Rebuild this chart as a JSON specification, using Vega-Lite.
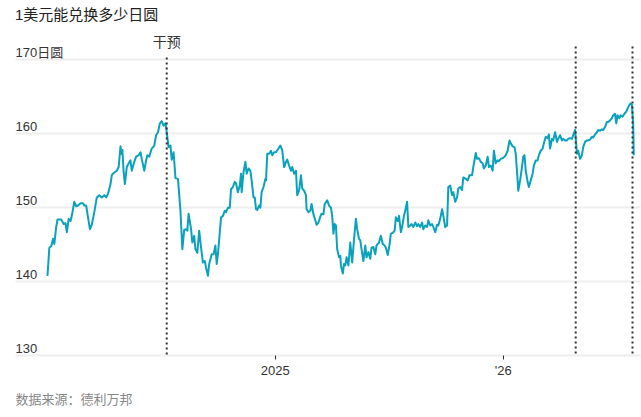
{
  "$schema": "https://vega.github.io/schema/vega-lite/v6.json",
  "width": 625,
  "height": 296,
  "autosize": {"type": "none"},
  "padding": {"left": 15, "top": 59, "right": 1, "bottom": 62},
  "background": "#ffffff",
  "config": {
    "font": "Liberation Sans, Noto Sans CJK SC, sans-serif",
    "view": {"stroke": null}
  },
  "title": {
    "text": "1美元能兑换多少日圆",
    "anchor": "start",
    "frame": "group",
    "fontSize": 15,
    "fontWeight": "normal",
    "color": "#222222",
    "offset": 13
  },
  "datasets": {
    "rates": [
      {"date": "2024-01-03", "rate": 140.7},
      {"date": "2024-01-06", "rate": 144.5},
      {"date": "2024-01-09", "rate": 144.7},
      {"date": "2024-01-12", "rate": 145.7},
      {"date": "2024-01-14", "rate": 145.0},
      {"date": "2024-01-17", "rate": 147.3},
      {"date": "2024-01-19", "rate": 148.3},
      {"date": "2024-01-25", "rate": 148.3},
      {"date": "2024-01-29", "rate": 147.7},
      {"date": "2024-02-01", "rate": 147.8},
      {"date": "2024-02-03", "rate": 146.6},
      {"date": "2024-02-06", "rate": 148.4},
      {"date": "2024-02-09", "rate": 148.1},
      {"date": "2024-02-12", "rate": 149.3},
      {"date": "2024-02-15", "rate": 150.7},
      {"date": "2024-02-18", "rate": 150.1},
      {"date": "2024-02-21", "rate": 150.2},
      {"date": "2024-02-25", "rate": 150.5},
      {"date": "2024-02-29", "rate": 150.5},
      {"date": "2024-03-02", "rate": 150.2},
      {"date": "2024-03-05", "rate": 150.2},
      {"date": "2024-03-07", "rate": 149.1},
      {"date": "2024-03-11", "rate": 147.0},
      {"date": "2024-03-14", "rate": 147.6},
      {"date": "2024-03-18", "rate": 149.3},
      {"date": "2024-03-22", "rate": 151.3},
      {"date": "2024-03-26", "rate": 151.6},
      {"date": "2024-03-30", "rate": 151.3},
      {"date": "2024-04-03", "rate": 151.6},
      {"date": "2024-04-06", "rate": 151.3},
      {"date": "2024-04-09", "rate": 151.8},
      {"date": "2024-04-13", "rate": 153.1},
      {"date": "2024-04-15", "rate": 154.3},
      {"date": "2024-04-18", "rate": 154.6},
      {"date": "2024-04-23", "rate": 154.9},
      {"date": "2024-04-26", "rate": 155.4},
      {"date": "2024-04-29", "rate": 158.2},
      {"date": "2024-04-30", "rate": 157.2},
      {"date": "2024-05-02", "rate": 157.7},
      {"date": "2024-05-04", "rate": 154.7},
      {"date": "2024-05-06", "rate": 153.1},
      {"date": "2024-05-09", "rate": 155.4},
      {"date": "2024-05-12", "rate": 155.9},
      {"date": "2024-05-15", "rate": 156.3},
      {"date": "2024-05-17", "rate": 154.9},
      {"date": "2024-05-21", "rate": 156.1},
      {"date": "2024-05-24", "rate": 156.8},
      {"date": "2024-05-28", "rate": 157.0},
      {"date": "2024-05-31", "rate": 157.4},
      {"date": "2024-06-02", "rate": 156.5},
      {"date": "2024-06-06", "rate": 154.9},
      {"date": "2024-06-09", "rate": 156.3},
      {"date": "2024-06-11", "rate": 157.0},
      {"date": "2024-06-14", "rate": 156.8},
      {"date": "2024-06-18", "rate": 157.9},
      {"date": "2024-06-22", "rate": 158.3},
      {"date": "2024-06-25", "rate": 159.7},
      {"date": "2024-06-28", "rate": 160.1},
      {"date": "2024-07-01", "rate": 161.3},
      {"date": "2024-07-04", "rate": 161.6},
      {"date": "2024-07-07", "rate": 161.0},
      {"date": "2024-07-10", "rate": 161.3},
      {"date": "2024-07-12", "rate": 160.1},
      {"date": "2024-07-15", "rate": 158.1},
      {"date": "2024-07-18", "rate": 158.3},
      {"date": "2024-07-20", "rate": 156.4},
      {"date": "2024-07-23", "rate": 157.4},
      {"date": "2024-07-26", "rate": 153.9},
      {"date": "2024-07-30", "rate": 153.8},
      {"date": "2024-08-03", "rate": 149.5},
      {"date": "2024-08-06", "rate": 144.3},
      {"date": "2024-08-09", "rate": 146.9},
      {"date": "2024-08-12", "rate": 147.0},
      {"date": "2024-08-14", "rate": 146.8},
      {"date": "2024-08-16", "rate": 149.1},
      {"date": "2024-08-20", "rate": 147.0},
      {"date": "2024-08-22", "rate": 145.2},
      {"date": "2024-08-25", "rate": 146.1},
      {"date": "2024-08-27", "rate": 144.3},
      {"date": "2024-08-30", "rate": 143.8},
      {"date": "2024-09-02", "rate": 146.8},
      {"date": "2024-09-05", "rate": 144.5},
      {"date": "2024-09-08", "rate": 142.5},
      {"date": "2024-09-11", "rate": 142.7},
      {"date": "2024-09-13", "rate": 141.8},
      {"date": "2024-09-16", "rate": 140.7},
      {"date": "2024-09-18", "rate": 142.3},
      {"date": "2024-09-22", "rate": 143.6},
      {"date": "2024-09-25", "rate": 143.6},
      {"date": "2024-09-28", "rate": 144.8},
      {"date": "2024-09-30", "rate": 142.3},
      {"date": "2024-10-02", "rate": 143.6},
      {"date": "2024-10-05", "rate": 146.6},
      {"date": "2024-10-07", "rate": 148.6},
      {"date": "2024-10-10", "rate": 148.8},
      {"date": "2024-10-13", "rate": 149.5},
      {"date": "2024-10-15", "rate": 149.3},
      {"date": "2024-10-18", "rate": 149.9},
      {"date": "2024-10-21", "rate": 149.9},
      {"date": "2024-10-23", "rate": 152.4},
      {"date": "2024-10-26", "rate": 152.7},
      {"date": "2024-10-29", "rate": 153.4},
      {"date": "2024-10-31", "rate": 153.2},
      {"date": "2024-11-03", "rate": 152.0},
      {"date": "2024-11-06", "rate": 152.9},
      {"date": "2024-11-08", "rate": 154.5},
      {"date": "2024-11-09", "rate": 152.0},
      {"date": "2024-11-12", "rate": 154.7},
      {"date": "2024-11-15", "rate": 156.1},
      {"date": "2024-11-17", "rate": 154.5},
      {"date": "2024-11-20", "rate": 155.2},
      {"date": "2024-11-23", "rate": 154.9},
      {"date": "2024-11-25", "rate": 153.6},
      {"date": "2024-11-28", "rate": 151.3},
      {"date": "2024-11-30", "rate": 151.3},
      {"date": "2024-12-02", "rate": 149.7},
      {"date": "2024-12-04", "rate": 149.6},
      {"date": "2024-12-07", "rate": 150.2},
      {"date": "2024-12-09", "rate": 149.9},
      {"date": "2024-12-11", "rate": 152.0},
      {"date": "2024-12-14", "rate": 152.7},
      {"date": "2024-12-17", "rate": 153.8},
      {"date": "2024-12-18", "rate": 153.6},
      {"date": "2024-12-20", "rate": 157.2},
      {"date": "2024-12-23", "rate": 157.2},
      {"date": "2024-12-26", "rate": 157.6},
      {"date": "2024-12-28", "rate": 157.0},
      {"date": "2024-12-31", "rate": 157.4},
      {"date": "2025-01-03", "rate": 157.4},
      {"date": "2025-01-07", "rate": 157.9},
      {"date": "2025-01-10", "rate": 158.3},
      {"date": "2025-01-13", "rate": 157.7},
      {"date": "2025-01-16", "rate": 155.4},
      {"date": "2025-01-19", "rate": 156.1},
      {"date": "2025-01-21", "rate": 156.4},
      {"date": "2025-01-24", "rate": 155.6},
      {"date": "2025-01-27", "rate": 154.9},
      {"date": "2025-01-29", "rate": 155.4},
      {"date": "2025-02-01", "rate": 154.5},
      {"date": "2025-02-04", "rate": 154.9},
      {"date": "2025-02-06", "rate": 151.6},
      {"date": "2025-02-09", "rate": 152.2},
      {"date": "2025-02-12", "rate": 154.3},
      {"date": "2025-02-14", "rate": 152.5},
      {"date": "2025-02-17", "rate": 152.2},
      {"date": "2025-02-20", "rate": 151.6},
      {"date": "2025-02-21", "rate": 149.7},
      {"date": "2025-02-24", "rate": 149.3},
      {"date": "2025-02-27", "rate": 149.5},
      {"date": "2025-03-01", "rate": 150.4},
      {"date": "2025-03-04", "rate": 149.0},
      {"date": "2025-03-07", "rate": 148.2},
      {"date": "2025-03-09", "rate": 147.6},
      {"date": "2025-03-12", "rate": 147.9},
      {"date": "2025-03-15", "rate": 148.7},
      {"date": "2025-03-17", "rate": 149.1},
      {"date": "2025-03-20", "rate": 149.0},
      {"date": "2025-03-22", "rate": 150.4},
      {"date": "2025-03-26", "rate": 150.9},
      {"date": "2025-03-29", "rate": 150.2},
      {"date": "2025-04-01", "rate": 149.9},
      {"date": "2025-04-03", "rate": 148.8},
      {"date": "2025-04-05", "rate": 146.4},
      {"date": "2025-04-07", "rate": 147.7},
      {"date": "2025-04-09", "rate": 147.5},
      {"date": "2025-04-11", "rate": 144.3},
      {"date": "2025-04-14", "rate": 143.2},
      {"date": "2025-04-16", "rate": 143.4},
      {"date": "2025-04-17", "rate": 142.1},
      {"date": "2025-04-20", "rate": 141.0},
      {"date": "2025-04-22", "rate": 142.3},
      {"date": "2025-04-24", "rate": 142.1},
      {"date": "2025-04-26", "rate": 143.2},
      {"date": "2025-04-29", "rate": 142.1},
      {"date": "2025-05-02", "rate": 145.2},
      {"date": "2025-05-05", "rate": 142.5},
      {"date": "2025-05-08", "rate": 145.7},
      {"date": "2025-05-11", "rate": 148.4},
      {"date": "2025-05-13", "rate": 147.0},
      {"date": "2025-05-16", "rate": 145.7},
      {"date": "2025-05-18", "rate": 145.5},
      {"date": "2025-05-20", "rate": 144.3},
      {"date": "2025-05-23", "rate": 142.7},
      {"date": "2025-05-26", "rate": 144.8},
      {"date": "2025-05-28", "rate": 143.2},
      {"date": "2025-05-31", "rate": 143.9},
      {"date": "2025-06-03", "rate": 143.0},
      {"date": "2025-06-05", "rate": 144.5},
      {"date": "2025-06-08", "rate": 144.6},
      {"date": "2025-06-11", "rate": 143.6},
      {"date": "2025-06-13", "rate": 144.8},
      {"date": "2025-06-17", "rate": 145.2},
      {"date": "2025-06-20", "rate": 146.1},
      {"date": "2025-06-23", "rate": 145.0},
      {"date": "2025-06-26", "rate": 144.8},
      {"date": "2025-06-28", "rate": 144.5},
      {"date": "2025-07-01", "rate": 143.5},
      {"date": "2025-07-04", "rate": 145.0},
      {"date": "2025-07-06", "rate": 146.4},
      {"date": "2025-07-09", "rate": 146.5},
      {"date": "2025-07-12", "rate": 146.8},
      {"date": "2025-07-14", "rate": 148.6},
      {"date": "2025-07-17", "rate": 148.1},
      {"date": "2025-07-19", "rate": 148.8},
      {"date": "2025-07-22", "rate": 146.6},
      {"date": "2025-07-24", "rate": 147.3},
      {"date": "2025-07-27", "rate": 148.8},
      {"date": "2025-07-29", "rate": 149.5},
      {"date": "2025-08-01", "rate": 150.7},
      {"date": "2025-08-03", "rate": 147.3},
      {"date": "2025-08-06", "rate": 147.5},
      {"date": "2025-08-08", "rate": 147.7},
      {"date": "2025-08-11", "rate": 147.3},
      {"date": "2025-08-14", "rate": 147.9},
      {"date": "2025-08-17", "rate": 147.4},
      {"date": "2025-08-19", "rate": 147.7},
      {"date": "2025-08-22", "rate": 147.3},
      {"date": "2025-08-25", "rate": 147.9},
      {"date": "2025-08-27", "rate": 147.0},
      {"date": "2025-08-30", "rate": 147.5},
      {"date": "2025-09-02", "rate": 147.3},
      {"date": "2025-09-04", "rate": 148.2},
      {"date": "2025-09-07", "rate": 147.5},
      {"date": "2025-09-10", "rate": 147.7},
      {"date": "2025-09-12", "rate": 147.3},
      {"date": "2025-09-15", "rate": 146.6},
      {"date": "2025-09-18", "rate": 147.6},
      {"date": "2025-09-20", "rate": 147.5},
      {"date": "2025-09-23", "rate": 148.4},
      {"date": "2025-09-26", "rate": 149.7},
      {"date": "2025-09-28", "rate": 148.8},
      {"date": "2025-10-01", "rate": 147.3},
      {"date": "2025-10-04", "rate": 147.5},
      {"date": "2025-10-06", "rate": 152.7},
      {"date": "2025-10-09", "rate": 152.9},
      {"date": "2025-10-12", "rate": 151.6},
      {"date": "2025-10-14", "rate": 152.0},
      {"date": "2025-10-17", "rate": 150.7},
      {"date": "2025-10-20", "rate": 151.3},
      {"date": "2025-10-22", "rate": 152.5},
      {"date": "2025-10-25", "rate": 152.7},
      {"date": "2025-10-28", "rate": 152.3},
      {"date": "2025-10-30", "rate": 154.0},
      {"date": "2025-11-03", "rate": 153.8},
      {"date": "2025-11-06", "rate": 153.6},
      {"date": "2025-11-09", "rate": 154.3},
      {"date": "2025-11-13", "rate": 154.3},
      {"date": "2025-11-15", "rate": 155.4},
      {"date": "2025-11-19", "rate": 157.3},
      {"date": "2025-11-21", "rate": 156.5},
      {"date": "2025-11-24", "rate": 156.6},
      {"date": "2025-11-27", "rate": 156.1},
      {"date": "2025-11-30", "rate": 155.9},
      {"date": "2025-12-02", "rate": 155.2},
      {"date": "2025-12-05", "rate": 155.6},
      {"date": "2025-12-08", "rate": 156.8},
      {"date": "2025-12-10", "rate": 155.4},
      {"date": "2025-12-13", "rate": 155.6},
      {"date": "2025-12-16", "rate": 154.9},
      {"date": "2025-12-18", "rate": 157.6},
      {"date": "2025-12-21", "rate": 155.9},
      {"date": "2025-12-24", "rate": 156.3},
      {"date": "2025-12-26", "rate": 156.2},
      {"date": "2025-12-29", "rate": 156.5},
      {"date": "2026-01-01", "rate": 156.6},
      {"date": "2026-01-04", "rate": 156.8},
      {"date": "2026-01-06", "rate": 157.0},
      {"date": "2026-01-09", "rate": 157.6},
      {"date": "2026-01-12", "rate": 159.0},
      {"date": "2026-01-14", "rate": 158.6},
      {"date": "2026-01-17", "rate": 158.2},
      {"date": "2026-01-20", "rate": 158.1},
      {"date": "2026-01-22", "rate": 157.2},
      {"date": "2026-01-25", "rate": 153.6},
      {"date": "2026-01-26", "rate": 152.2},
      {"date": "2026-01-29", "rate": 153.6},
      {"date": "2026-02-01", "rate": 155.4},
      {"date": "2026-02-03", "rate": 156.8},
      {"date": "2026-02-05", "rate": 157.0},
      {"date": "2026-02-07", "rate": 154.9},
      {"date": "2026-02-10", "rate": 153.4},
      {"date": "2026-02-12", "rate": 152.7},
      {"date": "2026-02-15", "rate": 153.6},
      {"date": "2026-02-18", "rate": 154.5},
      {"date": "2026-02-20", "rate": 155.6},
      {"date": "2026-02-23", "rate": 156.3},
      {"date": "2026-02-26", "rate": 156.3},
      {"date": "2026-02-28", "rate": 157.0},
      {"date": "2026-03-03", "rate": 157.6},
      {"date": "2026-03-06", "rate": 157.9},
      {"date": "2026-03-08", "rate": 158.6},
      {"date": "2026-03-11", "rate": 159.5},
      {"date": "2026-03-14", "rate": 159.3},
      {"date": "2026-03-16", "rate": 159.8},
      {"date": "2026-03-18", "rate": 157.9},
      {"date": "2026-03-21", "rate": 159.2},
      {"date": "2026-03-23", "rate": 159.0},
      {"date": "2026-03-26", "rate": 160.1},
      {"date": "2026-03-29", "rate": 158.8},
      {"date": "2026-03-31", "rate": 159.2},
      {"date": "2026-04-03", "rate": 159.7},
      {"date": "2026-04-06", "rate": 159.0},
      {"date": "2026-04-08", "rate": 159.2},
      {"date": "2026-04-11", "rate": 159.0},
      {"date": "2026-04-14", "rate": 159.0},
      {"date": "2026-04-16", "rate": 159.2},
      {"date": "2026-04-19", "rate": 159.3},
      {"date": "2026-04-22", "rate": 159.2},
      {"date": "2026-04-24", "rate": 159.7},
      {"date": "2026-04-27", "rate": 160.4},
      {"date": "2026-04-30", "rate": 157.2},
      {"date": "2026-05-02", "rate": 157.6},
      {"date": "2026-05-05", "rate": 156.5},
      {"date": "2026-05-08", "rate": 157.0},
      {"date": "2026-05-10", "rate": 158.1},
      {"date": "2026-05-13", "rate": 158.8},
      {"date": "2026-05-16", "rate": 159.0},
      {"date": "2026-05-18", "rate": 159.0},
      {"date": "2026-05-21", "rate": 159.1},
      {"date": "2026-05-24", "rate": 159.5},
      {"date": "2026-05-26", "rate": 159.4},
      {"date": "2026-05-29", "rate": 159.8},
      {"date": "2026-06-01", "rate": 160.1},
      {"date": "2026-06-03", "rate": 160.4},
      {"date": "2026-06-06", "rate": 160.3},
      {"date": "2026-06-09", "rate": 160.5},
      {"date": "2026-06-11", "rate": 160.4},
      {"date": "2026-06-14", "rate": 160.8},
      {"date": "2026-06-17", "rate": 161.5},
      {"date": "2026-06-19", "rate": 161.5},
      {"date": "2026-06-22", "rate": 161.7},
      {"date": "2026-06-25", "rate": 162.0},
      {"date": "2026-06-27", "rate": 162.4},
      {"date": "2026-06-30", "rate": 162.6},
      {"date": "2026-07-02", "rate": 161.3},
      {"date": "2026-07-04", "rate": 162.4},
      {"date": "2026-07-07", "rate": 162.0},
      {"date": "2026-07-09", "rate": 162.4},
      {"date": "2026-07-12", "rate": 162.2},
      {"date": "2026-07-15", "rate": 162.6},
      {"date": "2026-07-18", "rate": 162.9},
      {"date": "2026-07-20", "rate": 163.3},
      {"date": "2026-07-23", "rate": 163.8},
      {"date": "2026-07-25", "rate": 164.0},
      {"date": "2026-07-27", "rate": 163.8},
      {"date": "2026-07-29", "rate": 161.3},
      {"date": "2026-07-30", "rate": 157.0}
    ],
    "events": [
      {"date": "2024-07-12", "top": 170.2, "label": "干预"},
      {"date": "2026-04-28", "top": 171.7, "label": ""},
      {"date": "2026-07-28", "top": 171.7, "label": ""}
    ]
  },
  "layer": [
    {
      "data": {"name": "rates"},
      "mark": {"type": "line", "color": "#0aa1bd", "strokeWidth": 2, "strokeJoin": "round"},
      "encoding": {
        "x": {
          "field": "date",
          "type": "temporal",
          "scale": {
            "type": "utc",
            "domain": [
              {"year": 2023, "month": 11, "date": 12, "utc": true},
              {"year": 2026, "month": 8, "date": 9, "utc": true}
            ]
          },
          "axis": {
            "values": [
              {"year": 2025, "month": 1, "date": 1, "utc": true},
              {"year": 2026, "month": 1, "date": 1, "utc": true}
            ],
            "labelExpr": "utcFormat(datum.value, '%Y') == '2025' ? '2025' : \"'26\"",
            "grid": false,
            "domain": false,
            "ticks": true,
            "tickSize": 4,
            "tickColor": "#333333",
            "labelFontSize": 13,
            "labelColor": "#333333",
            "labelPadding": 5,
            "title": "数据来源：德利万邦",
            "titleFontSize": 13,
            "titleFontWeight": "normal",
            "titleColor": "#888888",
            "titleAlign": "left",
            "titleAnchor": "start",
            "titleBaseline": "top",
            "titleX": 0,
            "titleY": 38
          }
        },
        "y": {
          "field": "rate",
          "type": "quantitative",
          "scale": {"domain": [130, 170], "nice": false, "zero": false},
          "axis": {
            "values": [130, 140, 150, 160, 170],
            "labelExpr": "datum.value == 170 ? '170日圆' : datum.label",
            "grid": true,
            "gridColor": "#eeeeee",
            "gridWidth": 2,
            "domain": false,
            "ticks": false,
            "tickSize": 0,
            "labelAlign": "left",
            "labelBaseline": "alphabetic",
            "labelPadding": 0,
            "labelOffset": -3,
            "labelFontSize": 13,
            "labelColor": "#333333",
            "title": null
          }
        }
      }
    },
    {
      "data": {"name": "events"},
      "mark": {"type": "rule", "color": "#333333", "strokeWidth": 2, "strokeDash": [2, 3]},
      "encoding": {
        "x": {"field": "date", "type": "temporal"},
        "y": {"field": "top", "type": "quantitative"},
        "y2": {"datum": 130}
      }
    },
    {
      "data": {"name": "events"},
      "mark": {"type": "text", "fontSize": 14, "color": "#333333", "align": "center", "baseline": "middle"},
      "encoding": {
        "x": {"field": "date", "type": "temporal"},
        "y": {"datum": 172.1},
        "text": {"field": "label"}
      }
    }
  ]
}
